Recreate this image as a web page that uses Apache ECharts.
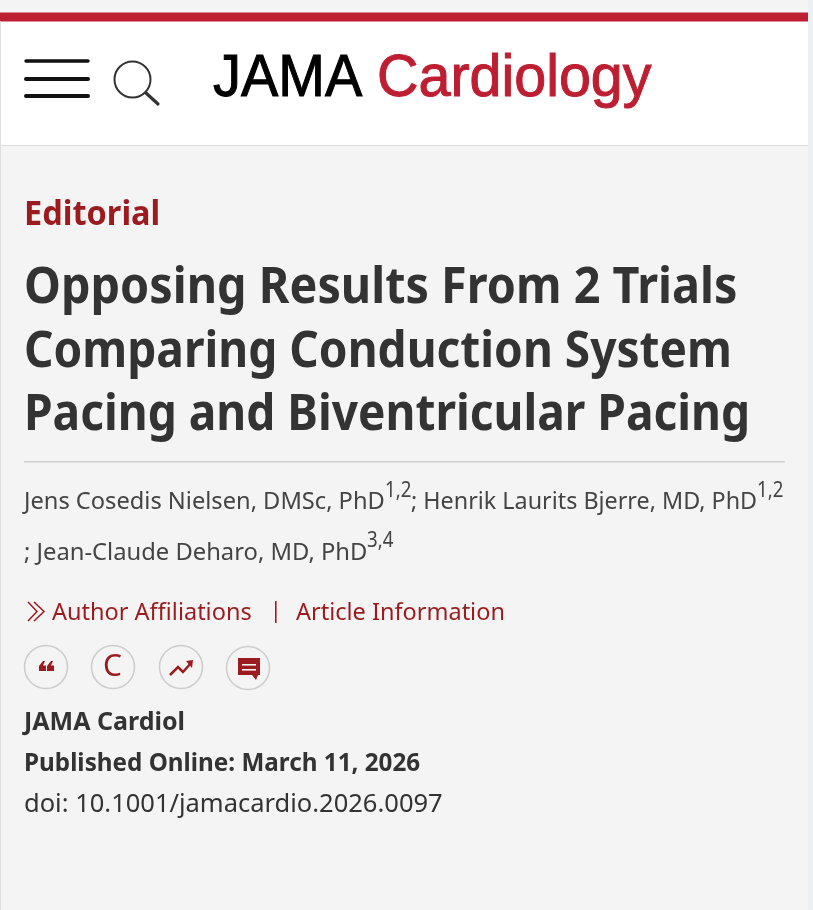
<!DOCTYPE html>
<html><head><meta charset="utf-8">
<style>html,body{margin:0;padding:0;background:#f4f4f4}#c{width:813px;height:910px}</style>
<script src="https://cdn.jsdelivr.net/npm/echarts@6/dist/echarts.min.js"></script>
</head><body><div id="c"></div>
<script>
const logoBlack = "JAMA";
const logoRed = "Cardiology";
const sectionLabel = "Editorial";
const titleLines = ["Opposing Results From 2 Trials","Comparing Conduction System","Pacing and Biventricular Pacing"];
const authorsA = "Jens Cosedis Nielsen, DMSc, PhD";
const authorsB = "; Henrik Laurits Bjerre, MD, PhD";
const authorsC = "; Jean-Claude Deharo, MD, PhD";
const supA = "1,2", supC = "3,4";
const linkA = "Author Affiliations", linkB = "Article Information";
const journal = "JAMA Cardiol";
const published = "Published Online: March 11, 2026";
const doi = "doi: 10.1001/jamacardio.2026.0097";

const RED="#be1e32", DARK="#9b1b1f", INK="#333333", F="'Noto Sans'", BG="#f4f4f4";
const T=(x,y,text,size,weight,fill,family,sx,extra)=>({type:'text',x,y,scaleX:sx||1,silent:true,style:Object.assign({text,fontSize:size,fontWeight:weight,fill,fontFamily:family||F,verticalAlign:'middle'},extra||{})});
const R=(x,y,w,h,fill)=>({type:'rect',silent:true,shape:{x,y,width:w,height:h},style:{fill}});
const L=(x1,y1,x2,y2,stroke,lw,cap)=>({type:'line',silent:true,shape:{x1,y1,x2,y2},style:{stroke,lineWidth:lw,lineCap:cap||'round'}});
const C=(cx,cy,r)=>({type:'circle',silent:true,shape:{cx,cy,r},style:{fill:BG,stroke:'#cccccc',lineWidth:1.5}});
const P=(points,stroke,lw)=>({type:'polyline',silent:true,shape:{points},style:{stroke,lineWidth:lw,fill:null,lineJoin:'miter'}});
const G=(points,fill)=>({type:'polygon',silent:true,shape:{points},style:{fill}});

const els=[
 R(0,0,813,910,BG),
 R(808,0,5,910,'#eceff4'),
 R(0,21,808,124,'#ffffff'),
 R(0,12.5,808,9,RED),
 R(0,145,808,1,'#dddddd'),
 R(0,21,1,889,'#dedede'),
 // menu + search icons
 L(26,61,88,61,'#111',3.4),L(26,79,88,79,'#111',4),L(26,96,88,96,'#111',4),
 {type:'circle',silent:true,shape:{cx:132.5,cy:79.5,r:18},style:{fill:null,stroke:'#333',lineWidth:2}},
 L(146,93,158,104,'#333',3.2),
 T(213,79.5,logoBlack,58.6,400,'#000000',"'Liberation Sans'",0.955,{stroke:'#000000',lineWidth:1}),
 T(377,79.5,logoRed,58.6,400,RED,"'Liberation Sans'",0.98,{stroke:RED,lineWidth:1}),
 T(24,215.5,sectionLabel,33.5,700,DARK,F,0.97),
 T(24,289,titleLines[0],50,700,INK,F,0.935),
 T(24,353,titleLines[1],50,700,INK,F,0.921),
 T(24,416,titleLines[2],50,700,INK,F,0.921),
 R(24,461,761,1.5,'#cfcfcf'),
 T(24,502,authorsA,24,400,'#444444',F,0.985),
 T(385,491,supA,22,400,'#444444',F,0.85),
 T(411,502,authorsB,24,400,'#444444',F,0.972),
 T(757,491,supA,22,400,'#444444',F,0.85),
 T(24,553,authorsC,24,400,'#444444',F,0.99),
 T(367,541,supC,22,400,'#444444',F,0.85),
 P([[28,602],[37,611.5],[28,621]],DARK,1.5),P([[34,602],[44,611.5],[34,621]],DARK,1.5),
 T(52,613,linkA,23.5,400,DARK),
 R(275,601,1.6,22,DARK),
 T(296,613,linkB,23.5,400,DARK),
 C(46,667,21.5),C(113,667,21.5),C(181,667,21.5),C(248,668,21.5),
 G([[39,671],[39,666],[43,661],[45,661],[43,665.5],[46,665.5],[46,671]],DARK),
 G([[47,671],[47,666],[51,661],[53,661],[51,665.5],[54,665.5],[54,671]],DARK),
 T(103,667,"C",30,400,DARK),
 P([[170,675],[178,667],[183,672],[191,663]],DARK,2.5),G([[186,661],[193,660],[192,668]],DARK),
 G([[238,658],[260,658],[260,675],[258,675],[256,680],[252,675],[238,675]],DARK),
 R(242,664,14,1.6,BG),R(242,669,14,1.6,BG),
 T(24,723,journal,25,700,INK),
 T(24,764,published,25,700,INK,F,0.97),
 T(24,805,doi,25.5,400,INK)
];
const chart=echarts.init(document.getElementById('c'),null,{renderer:'canvas'});
chart.setOption({animation:false,graphic:{elements:els}});
</script></body></html>
